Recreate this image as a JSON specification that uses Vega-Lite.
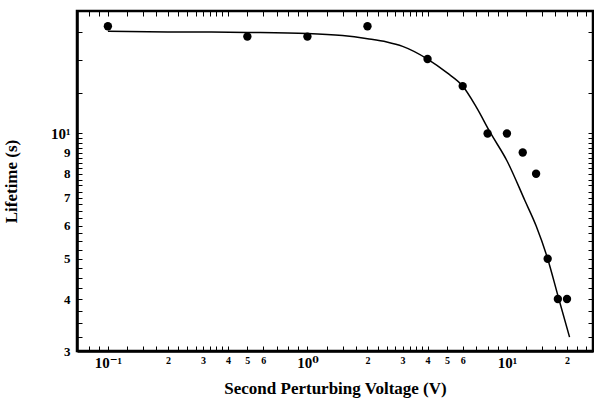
{
  "$schema": "https://vega.github.io/schema/vega-lite/v6.json",
  "autosize": "none",
  "width": 516,
  "height": 340,
  "padding": {"left": 77, "top": 11, "right": 1, "bottom": 54},
  "background": "white",
  "config": {
    "view": {"stroke": "black", "strokeWidth": 2.5}
  },
  "datasets": {
    "measured": [
      {"voltage": 0.1, "lifetime": 18.1},
      {"voltage": 0.5, "lifetime": 17.1},
      {"voltage": 1, "lifetime": 17.1},
      {"voltage": 2, "lifetime": 18.1},
      {"voltage": 4, "lifetime": 15.1},
      {"voltage": 6, "lifetime": 13.0},
      {"voltage": 8, "lifetime": 10},
      {"voltage": 10, "lifetime": 10},
      {"voltage": 12, "lifetime": 9},
      {"voltage": 14, "lifetime": 8},
      {"voltage": 16, "lifetime": 5},
      {"voltage": 18, "lifetime": 4},
      {"voltage": 20, "lifetime": 4}
    ],
    "fit": [
      {"voltage": 0.1, "lifetime": 17.6},
      {"voltage": 0.2, "lifetime": 17.55},
      {"voltage": 0.5, "lifetime": 17.5},
      {"voltage": 1, "lifetime": 17.4},
      {"voltage": 1.5, "lifetime": 17.2},
      {"voltage": 2, "lifetime": 16.9},
      {"voltage": 2.5, "lifetime": 16.6},
      {"voltage": 3, "lifetime": 16.2},
      {"voltage": 4, "lifetime": 15.1},
      {"voltage": 5, "lifetime": 14.0},
      {"voltage": 6, "lifetime": 13.0},
      {"voltage": 7, "lifetime": 11.6},
      {"voltage": 8.3, "lifetime": 10},
      {"voltage": 10, "lifetime": 8.6},
      {"voltage": 12.3, "lifetime": 6.9},
      {"voltage": 14, "lifetime": 6.0},
      {"voltage": 16, "lifetime": 5.0},
      {"voltage": 18, "lifetime": 4.08},
      {"voltage": 20.6, "lifetime": 3.24}
    ]
  },
  "layer": [
    {
      "data": {"name": "fit"},
      "mark": {"type": "line", "color": "black", "strokeWidth": 1.5, "interpolate": "monotone"},
      "encoding": {
        "x": {
          "field": "voltage", "type": "quantitative",
          "scale": {"type": "log", "domain": [0.07, 27]},
          "axis": {
            "orient": "top", "labels": false, "title": null, "grid": false,
            "domainColor": "black", "tickColor": "black", "tickSize": -5,
            "values": [0.08, 0.09, 0.1, 0.125, 0.15, 0.175, 0.2, 0.225, 0.25, 0.275, 0.3, 0.325, 0.35, 0.375, 0.4, 0.5, 0.6, 0.7, 0.8, 0.9, 1, 1.25, 1.5, 1.75, 2, 2.25, 2.5, 2.75, 3, 3.25, 3.5, 3.75, 4, 5, 6, 7, 8, 9, 10, 12.5, 15, 17.5, 20, 22.5, 25]
          }
        },
        "y": {
          "field": "lifetime", "type": "quantitative",
          "scale": {"type": "log", "domain": [3, 19.7]},
          "axis": {
            "orient": "right", "labels": false, "title": null, "grid": false,
            "domainColor": "black", "tickColor": "black", "tickSize": -5,
            "values": [3, 3.25, 3.5, 3.75, 4, 4.25, 4.5, 4.75, 5, 5.25, 5.5, 5.75, 6, 6.25, 6.5, 6.75, 7, 7.25, 7.5, 7.75, 8, 8.25, 8.5, 8.75, 9, 9.25, 9.5, 9.75, 10, 12.5, 15, 17.5]
          }
        }
      }
    },
    {
      "data": {"name": "measured"},
      "mark": {"type": "point", "filled": true, "color": "black", "opacity": 0},
      "encoding": {
        "x": {
          "field": "voltage", "type": "quantitative",
          "scale": {"type": "log", "domain": [0.07, 27]},
          "axis": {
            "orient": "bottom", "labels": false, "title": null, "grid": false,
            "domainColor": "black", "tickColor": "black", "tickSize": -5,
            "values": [0.08, 0.09, 0.1, 0.125, 0.15, 0.175, 0.2, 0.225, 0.25, 0.275, 0.3, 0.325, 0.35, 0.375, 0.4, 0.5, 0.6, 0.7, 0.8, 0.9, 1, 1.25, 1.5, 1.75, 2, 2.25, 2.5, 2.75, 3, 3.25, 3.5, 3.75, 4, 5, 6, 7, 8, 9, 10, 12.5, 15, 17.5, 20, 22.5, 25]
          }
        },
        "y": {
          "field": "lifetime", "type": "quantitative",
          "scale": {"type": "log", "domain": [3, 19.7]},
          "axis": {
            "orient": "left", "labels": false, "title": null, "grid": false,
            "domainColor": "black", "tickColor": "black", "tickSize": -5,
            "values": [3, 3.25, 3.5, 3.75, 4, 4.25, 4.5, 4.75, 5, 5.25, 5.5, 5.75, 6, 6.25, 6.5, 6.75, 7, 7.25, 7.5, 7.75, 8, 8.25, 8.5, 8.75, 9, 9.25, 9.5, 9.75, 10, 12.5, 15, 17.5]
          }
        }
      }
    },
    {
      "data": {"name": "measured"},
      "mark": {"type": "point", "filled": true, "color": "black", "opacity": 1, "size": 70},
      "encoding": {
        "x": {
          "field": "voltage", "type": "quantitative",
          "scale": {"type": "log", "domain": [0.07, 27]},
          "axis": {
            "orient": "bottom",
            "ticks": false, "grid": false,
            "domainColor": "black", "domainWidth": 2.5,
            "title": "Second Perturbing Voltage (V)",
            "titleFont": "Liberation Serif", "titleFontWeight": "bold", "titleColor": "black", "titleFontSize": 17,
            "titlePadding": 10,
            "labelFont": "Liberation Serif, DejaVu Serif", "labelFontWeight": "bold", "labelColor": "black",
            "labelFlush": false, "labelOverlap": false,
            "labelPadding": 4,
            "values": [0.1, 0.2, 0.3, 0.4, 0.5, 0.6, 1, 2, 3, 4, 5, 6, 10, 20],
            "labelExpr": "datum.value == 0.1 ? '10⁻¹' : datum.value == 1 ? '10⁰' : datum.value == 10 ? '10¹' : format(datum.value / pow(10, floor(log(datum.value * 1.0001) / LN10)), '.0f')",
            "labelFontSize": {"condition": {"test": "indexof([0.1, 1, 10], datum.value) >= 0", "value": 15}, "value": 10}
          }
        },
        "y": {
          "field": "lifetime", "type": "quantitative",
          "scale": {"type": "log", "domain": [3, 19.7]},
          "axis": {
            "orient": "left",
            "ticks": false, "grid": false,
            "domainColor": "black", "domainWidth": 2.5,
            "title": "Lifetime (s)",
            "titleFont": "Liberation Serif", "titleFontWeight": "bold", "titleColor": "black", "titleFontSize": 17,
            "titlePadding": 30,
            "labelFont": "Liberation Serif, DejaVu Serif", "labelFontWeight": "bold", "labelColor": "black",
            "labelFlush": false, "labelOverlap": false,
            "labelPadding": 7,
            "values": [3, 4, 5, 6, 7, 8, 9, 10],
            "labelExpr": "datum.value == 10 ? '10¹' : format(datum.value, 'd')",
            "labelFontSize": {"condition": {"test": "datum.value == 10", "value": 15}, "value": 13}
          }
        }
      }
    }
  ],
  "resolve": {"axis": {"x": "independent", "y": "independent"}}
}
